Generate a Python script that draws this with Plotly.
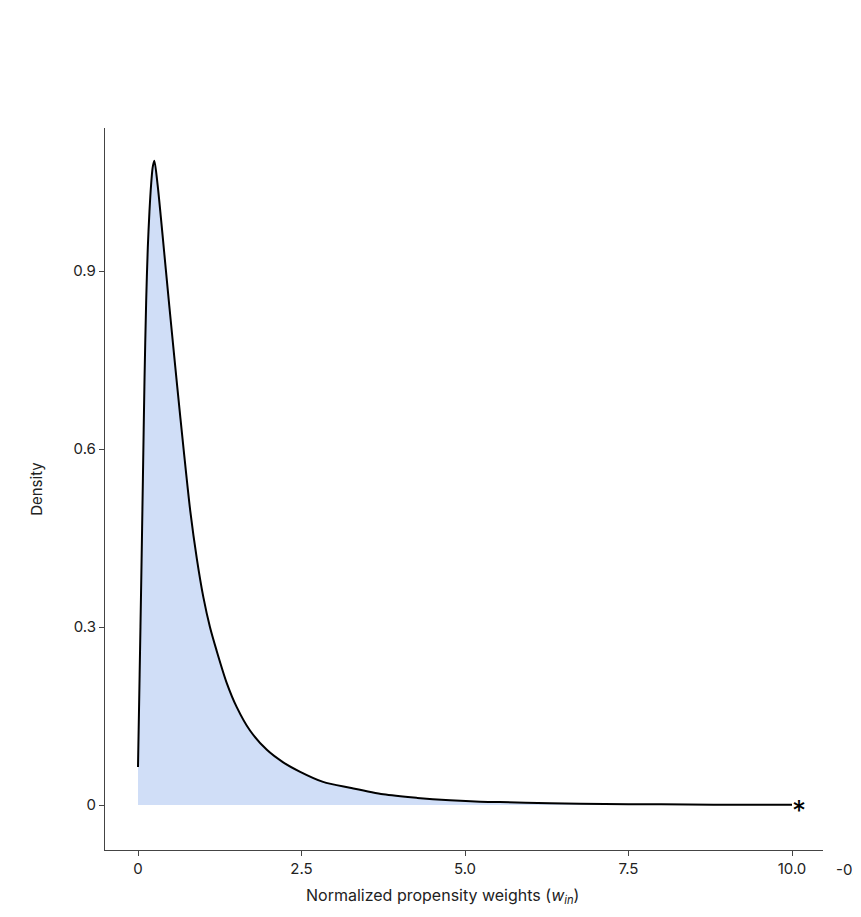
import plotly.graph_objects as go

# Density curve of normalized propensity weights
weights = [0.0, 0.025, 0.05, 0.075, 0.1, 0.125, 0.15, 0.175, 0.2, 0.225, 0.25,
           0.3, 0.35, 0.4, 0.45, 0.5, 0.6, 0.7, 0.8, 0.9, 1.0, 1.1,
           1.2, 1.356, 1.51, 1.71, 1.97, 2.22, 2.48, 2.83, 3.24, 3.75, 4.27, 4.77,
           5.23, 5.53, 6.3, 6.76, 7.5, 8.0, 8.8, 9.5, 10.0]
density = [0.064, 0.22, 0.38, 0.55, 0.72, 0.85, 0.94, 1.0, 1.045, 1.075, 1.086,
           1.045, 0.99, 0.932, 0.874, 0.817, 0.705, 0.597, 0.495, 0.415, 0.35, 0.3,
           0.261, 0.206, 0.165, 0.126, 0.093, 0.072, 0.056, 0.039, 0.029, 0.018, 0.012, 0.008,
           0.0056, 0.005, 0.003, 0.0022, 0.0015, 0.0012, 0.0006, 0.0005, 0.0005]

x_ticks = [0, 2.5, 5.0, 7.5, 10.0]
x_tick_labels = ["0", "2.5", "5.0", "7.5", "10.0"]
y_ticks = [0, 0.3, 0.6, 0.9]
y_tick_labels = ["0", "0.3", "0.6", "0.9"]

FONT = "Inter"
AXIS_COLOR = "#444444"
TEXT_COLOR = "#222222"

fig = go.Figure()
fig.add_trace(go.Scatter(
    x=weights, y=density, mode="lines",
    line=dict(color="black", width=2, shape="spline", smoothing=0.8),
    fill="tozeroy", fillcolor="rgb(208,222,247)",
    hoverinfo="skip", showlegend=False,
))

fig.add_annotation(x=10.1, y=0, xref="x", yref="y", text="*", showarrow=False,
                   font=dict(family=FONT, size=28, color="black"), yshift=-6)

fig.add_annotation(x=4.66, xref="x", y=0, yref="paper", yshift=-46,
                   text="Normalized propensity weights (<i>w</i><sub><i>in</i></sub>)",
                   showarrow=False, yanchor="middle",
                   font=dict(family=FONT, size=16, color=TEXT_COLOR))

# truncated tick label of a neighbouring panel at the right edge
fig.add_annotation(x=1.0153, xref="paper", y=0, yref="paper", xanchor="left",
                   yanchor="top", text="-0.", showarrow=False, yshift=-8,
                   font=dict(family=FONT, size=15, color=TEXT_COLOR))

fig.update_layout(
    width=853, height=909,
    margin=dict(l=97, r=38, t=120, b=67),
    paper_bgcolor="white", plot_bgcolor="white",
    font=dict(family=FONT, size=15, color=TEXT_COLOR),
    xaxis=dict(range=[-0.5046, 10.474], tickvals=x_ticks, ticktext=x_tick_labels,
               showgrid=False, zeroline=False, showline=True, linecolor=AXIS_COLOR,
               linewidth=1.2, ticks="outside", ticklen=5, tickcolor=AXIS_COLOR,
               tickfont=dict(family=FONT, size=15, color=TEXT_COLOR)),
    yaxis=dict(range=[-0.0758, 1.141], tickvals=y_ticks, ticktext=y_tick_labels,
               showgrid=False, zeroline=False, showline=True, linecolor=AXIS_COLOR,
               linewidth=1.2, ticks="outside", ticklen=5, tickcolor=AXIS_COLOR,
               tickfont=dict(family=FONT, size=15, color=TEXT_COLOR),
               title=dict(text="Density", standoff=27,
                          font=dict(family=FONT, size=15, color=TEXT_COLOR))),
)

fig.write_html("out.html")
